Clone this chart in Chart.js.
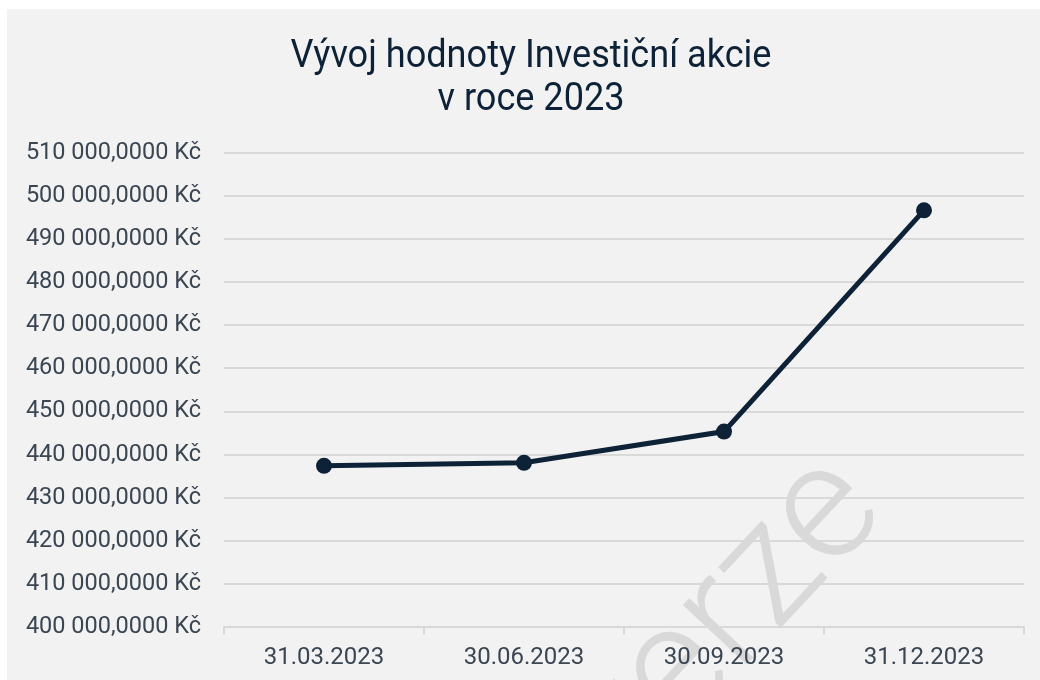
<!DOCTYPE html>
<html>
<head>
<meta charset="utf-8">
<script src="https://cdn.jsdelivr.net/npm/chart.js@4/dist/chart.umd.min.js"></script>
<style>
  body { margin: 0; background: #fff; }
  #wrap { position: absolute; left: 7px; top: 9px; width: 1033px; height: 671px; background: #f2f2f2; }
</style>
</head>
<body>
<div id="wrap"><canvas id="chart"></canvas></div>
<script>
// data
const datumy = ['31.03.2023', '30.06.2023', '30.09.2023', '31.12.2023'];
const hodnoty = [437400, 438100, 445350, 496700];
const nadpis = ['Vývoj hodnoty Investiční akcie', 'v roce 2023'];

const tmava = '#0d2137';

// vodoznak + nadpis (uzsi pismo)
const kresleni = {
  id: 'kresleni',
  beforeDraw(chart) {
    const ctx = chart.ctx;
    ctx.save();
    ctx.translate(720, 616);
    ctx.rotate(-47 * Math.PI / 180);
    ctx.font = '300 165px Roboto';
    ctx.fillStyle = '#d9d9d9';
    ctx.textAlign = 'center';
    ctx.textBaseline = 'middle';
    ctx.fillText('verze', 0, 0);
    ctx.restore();
  },
  afterDraw(chart) {
    const ctx = chart.ctx;
    ctx.save();
    ctx.font = '38px Roboto';
    ctx.fillStyle = tmava;
    ctx.textAlign = 'center';
    ctx.textBaseline = 'alphabetic';
    nadpis.forEach((radek, i) => {
      ctx.save();
      ctx.translate(524, 58 + i * 43);
      ctx.scale(0.95, 1);
      ctx.fillText(radek, 0, 0);
      ctx.restore();
    });
    ctx.restore();
  }
};

const ctx = document.getElementById('chart').getContext('2d');
new Chart(ctx, {
  type: 'line',
  data: {
    labels: datumy,
    datasets: [{
      data: hodnoty,
      borderColor: tmava,
      backgroundColor: tmava,
      borderWidth: 5,
      pointRadius: 8,
      pointHoverRadius: 8,
      pointBackgroundColor: tmava,
      pointBorderWidth: 0,
      tension: 0
    }]
  },
  options: {
    responsive: true,
    maintainAspectRatio: false,
    animation: false,
    layout: { padding: { left: 0, right: 16, top: 144, bottom: -2 } },
    plugins: {
      legend: { display: false },
      tooltip: { enabled: false },
      title: { display: false }
    },
    scales: {
      x: {
        offset: true,
        grid: { offset: true, drawOnChartArea: false, drawTicks: true, tickLength: 7, color: '#d9d9d9', lineWidth: 2 },
        border: { display: true, color: '#d9d9d9', width: 2 },
        ticks: { color: '#3b4653', font: { family: 'Roboto', size: 24, lineHeight: 1 }, padding: 12, maxRotation: 0 }
      },
      y: {
        min: 400000,
        max: 510000,
        afterFit(scale) { scale.width = 217; },
        grid: { drawTicks: false, color: '#d9d9d9', lineWidth: 2 },
        border: { display: false },
        ticks: {
          stepSize: 10000,
          color: '#3b4653',
          font: { family: 'Roboto', size: 23.5 },
          padding: 23,
          callback: v => v.toLocaleString('cs-CZ', { minimumFractionDigits: 4 }).replace(/\s/g, ' ') + ' Kč'
        }
      }
    }
  },
  plugins: [kresleni]
});
</script>
</body>
</html>
